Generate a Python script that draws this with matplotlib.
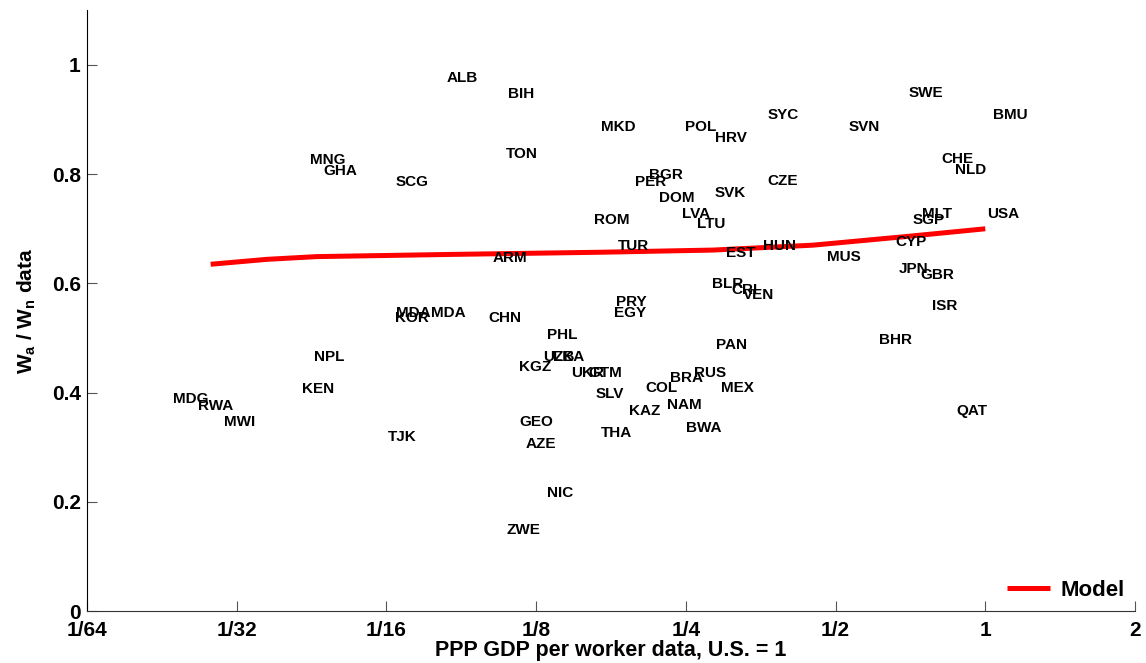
import numpy as np
import matplotlib
matplotlib.use("Agg")
import matplotlib.pyplot as plt

plt.rcParams['font.family'] = ['Liberation Sans', 'DejaVu Sans']
plt.rcParams['mathtext.fontset'] = 'custom'
plt.rcParams['mathtext.rm'] = 'Liberation Sans'
plt.rcParams['mathtext.bf'] = 'Liberation Sans:bold'

# country labels: code, GDP per worker relative to US, Wa/Wn
codes = ['ALB', 'BIH', 'MNG', 'GHA', 'SCG', 'TON', 'ARM', 'MDA', 'MDA', 'KOR',
         'CHN', 'PHL', 'NPL', 'KEN', 'MDG', 'RWA', 'MWI', 'TJK', 'UZB', 'LKA',
         'KGZ', 'UKR', 'GTM', 'SLV', 'GEO', 'AZE', 'THA', 'NIC', 'ZWE', 'PRY',
         'EGY', 'MKD', 'POL', 'HRV', 'SYC', 'SVN', 'SWE', 'BMU', 'CHE', 'NLD',
         'BGR', 'PER', 'CZE', 'DOM', 'SVK', 'ROM', 'LVA', 'LTU', 'MLT', 'SGP',
         'USA', 'TUR', 'EST', 'HUN', 'MUS', 'CYP', 'JPN', 'GBR', 'BLR', 'CRI',
         'VEN', 'ISR', 'BHR', 'PAN', 'BRA', 'RUS', 'COL', 'MEX', 'KAZ', 'NAM',
         'BWA', 'QAT']
gdp = [0.0819, 0.109, 0.0435, 0.0463, 0.0647, 0.1076, 0.1016, 0.0647, 0.0763, 0.0645,
       0.0993, 0.1306, 0.0444, 0.0419, 0.0231, 0.0259, 0.0292, 0.0623, 0.128, 0.134,
       0.1146, 0.1459, 0.158, 0.1637, 0.1146, 0.1182, 0.1673, 0.1306, 0.1083, 0.1798,
       0.1775, 0.1676, 0.2476, 0.2834, 0.363, 0.528, 0.695, 1.029, 0.811, 0.861,
       0.2088, 0.1962, 0.362, 0.2193, 0.2834, 0.1622, 0.2437, 0.2617, 0.742, 0.709,
       1.0, 0.1815, 0.2994, 0.3552, 0.4763, 0.6535, 0.6657, 0.736, 0.2803, 0.3067,
       0.3225, 0.7739, 0.6058, 0.2857, 0.2305, 0.2573, 0.2054, 0.2925, 0.1903, 0.2275,
       0.248, 0.868]
wratio = [0.979, 0.949, 0.828, 0.808, 0.788, 0.839, 0.649, 0.548, 0.548, 0.539,
          0.539, 0.508, 0.468, 0.409, 0.390, 0.377, 0.349, 0.321, 0.468, 0.468,
          0.449, 0.438, 0.438, 0.399, 0.349, 0.308, 0.328, 0.219, 0.150, 0.568,
          0.548, 0.889, 0.889, 0.869, 0.910, 0.889, 0.950, 0.910, 0.829, 0.809,
          0.800, 0.788, 0.789, 0.759, 0.768, 0.719, 0.730, 0.710, 0.730, 0.719,
          0.730, 0.670, 0.658, 0.670, 0.650, 0.678, 0.629, 0.618, 0.600, 0.590,
          0.581, 0.560, 0.499, 0.489, 0.429, 0.438, 0.410, 0.410, 0.369, 0.379,
          0.338, 0.369]

# model curve
model_x = [0.0277, 0.0359, 0.0452, 0.0838, 0.168, 0.2834, 0.4506, 0.716, 1.0]
model_y = [0.635, 0.644, 0.649, 0.653, 0.657, 0.661, 0.670, 0.687, 0.700]

xticks = [1/64, 1/32, 1/16, 1/8, 1/4, 1/2, 1, 2]
xticklabels = ['1/64', '1/32', '1/16', '1/8', '1/4', '1/2', '1', '2']
yticks = [0, 0.2, 0.4, 0.6, 0.8, 1]
yticklabels = ['0', '0.2', '0.4', '0.6', '0.8', '1']

fig = plt.figure(figsize=(11.46, 6.63), dpi=100)
ax = fig.add_axes([0.0759, 0.0784, 0.9145, 0.906])

ax.plot(model_x, model_y, color='red', lw=3.6, label='Model', solid_capstyle='butt')
for c, x, y in zip(codes, gdp, wratio):
    ax.annotate(c, (x, y), xytext=(1.2, -0.8), textcoords='offset points',
                ha='left', va='center', fontsize=11, fontweight='bold')

ax.set_xscale('log', base=2)
ax.set_xlim(1/64, 2)
ax.set_ylim(0, 1.1)
ax.set_xticks(xticks)
ax.set_xticklabels(xticklabels)
ax.set_yticks(yticks)
ax.set_yticklabels(yticklabels)
ax.minorticks_off()
ax.tick_params(direction='in', length=7, color='#555555', labelsize=15, pad=4.5)
ax.tick_params(axis='x', pad=7.5)
for lab in ax.get_xticklabels() + ax.get_yticklabels():
    lab.set_fontweight('bold')

ax.spines['top'].set_visible(False)
ax.spines['right'].set_visible(False)
ax.spines['bottom'].set_color('#333333')

ax.set_xlabel('PPP GDP per worker data, U.S. = 1', fontsize=15.5, fontweight='bold', labelpad=0)
ax.set_ylabel(r'$\mathbf{W_a}$ / $\mathbf{W_n}$ data', fontsize=15, fontweight='bold', labelpad=10)

leg = ax.legend(loc='lower right', frameon=False, handlelength=1.9, handletextpad=0.5,
                borderaxespad=0.15, borderpad=0.3,
                prop={'weight': 'bold', 'size': 16})

fig.savefig('out.png', dpi=100)
